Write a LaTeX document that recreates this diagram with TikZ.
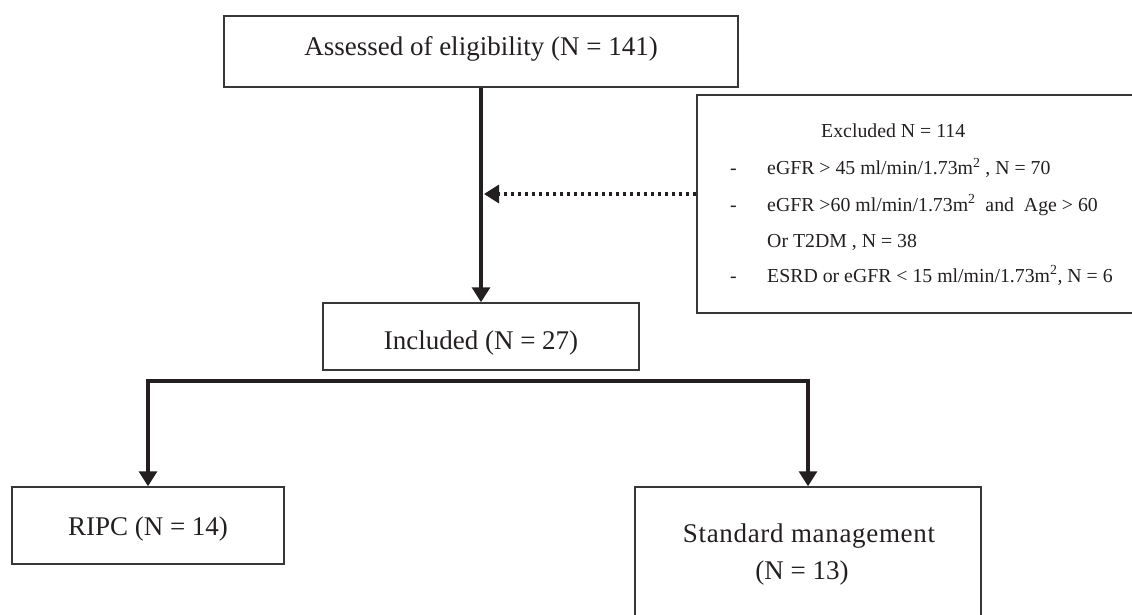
\documentclass[tikz,border=0pt]{standalone}
\usepackage{fontspec}
\setmainfont{Liberation Serif}
\usetikzlibrary{arrows.meta}
\definecolor{ink}{RGB}{35,31,32}
\definecolor{frame}{RGB}{55,55,55}
\begin{document}
\begin{tikzpicture}[x=1pt,y=-1pt,
  box/.style={draw=frame,line width=1.5pt,rectangle,inner sep=0pt,text=ink,
    font=\fontsize{27}{32}\selectfont,text depth=7pt},
  small/.style={inner sep=0pt,anchor=base west,text=ink,font=\fontsize{19.8}{24}\selectfont},
  big/.style={inner sep=0pt,anchor=base,text=ink,font=\fontsize{27}{32}\selectfont},
  arr/.style={draw=ink,line width=3.2pt,line join=miter,-{Triangle[width=18pt,length=15pt]}},
  dotarr/.style={draw=ink,line width=3.3pt,dash pattern=on 3.5pt off 3.5pt,-{Triangle[width=18pt,length=15pt]}}
]
\useasboundingbox (0,0) rectangle (1132,615);
% boxes
\node[box,minimum width=514pt,minimum height=71pt,text height=16pt] (top) at (481,51.5) {Assessed of eligibility (N = 141)};
\node[box,minimum width=316pt,minimum height=67pt,text height=32pt] (inc) at (481,336.5) {Included (N = 27)};
\node[box,minimum width=272pt,minimum height=77pt,text height=26pt] (ripc) at (148,525.5) {RIPC (N = 14)};
\node[box,minimum width=346pt,minimum height=138pt] (std) at (808,556) {};
\node[box,minimum width=439pt,minimum height=218pt] (excl) at (916.5,204) {};
% standard management text
\node[big] (std1) at (809,542) {\addfontfeature{LetterSpace=2.5}Standard management};
\node[big] (std2) at (802,579) {(N = 13)};
% excluded text
\node[small] (e1) at (821,138) {Excluded N = 114};
\node[small] (d1) at (730,175) {-};
\node[small] (e2) at (767,175) {eGFR > 45 ml/min/1.73m\textsuperscript{2} , N = 70};
\node[small] (d2) at (730,211) {-};
\node[small] (e3) at (767,211) {eGFR >60 ml/min/1.73m\textsuperscript{2}\ \ and\ \ Age > 60};
\node[small] (e4) at (767,247) {Or T2DM , N = 38};
\node[small] (d3) at (730,282) {-};
\node[small] (e5) at (767,282) {ESRD or eGFR < 15 ml/min/1.73m\textsuperscript{2}, N = 6};
% connectors
\draw[arr] (top.south) -- (inc.north);
\coordinate (dotend) at (484,194);
\draw[dotarr] (excl.west |- dotend) -- (dotend);
\coordinate (sp) at (481,381);
\draw[arr] (sp) -| (ripc.north);
\draw[arr] (sp) -| (std.north);
\end{tikzpicture}
\end{document}
